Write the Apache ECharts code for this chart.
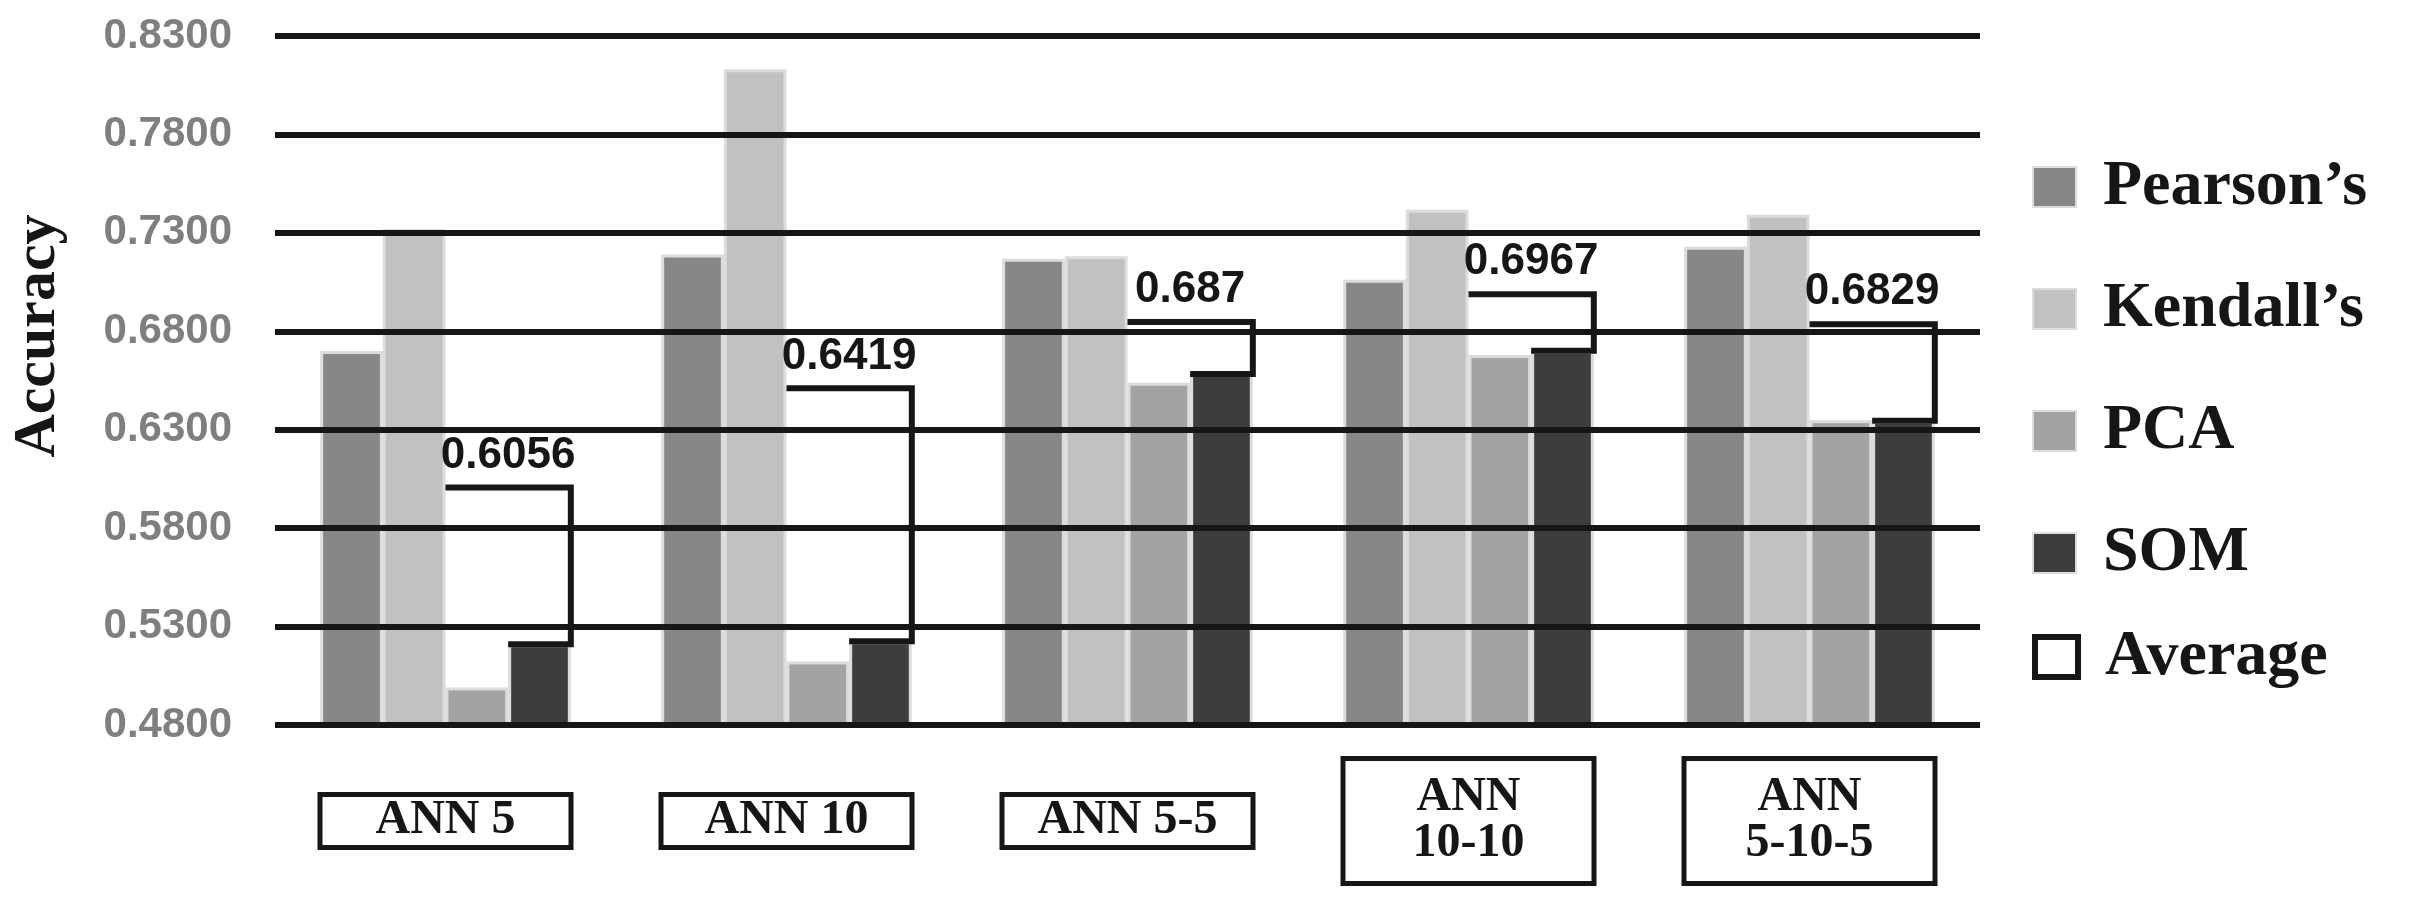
<!DOCTYPE html>
<html>
<head>
<meta charset="utf-8">
<script src="https://cdn.jsdelivr.net/npm/echarts@6/dist/echarts.min.js"></script>
<style>
  html, body { margin: 0; padding: 0; background: #ffffff; }
  #chart { width: 2409px; height: 911px; }
</style>
</head>
<body>
<div id="chart"></div>
<script>
// ---- data ----
const categories = ['ANN 5', 'ANN 10', 'ANN 5-5', 'ANN\n10-10', 'ANN\n5-10-5'];
const seriesNames = ['Pearson\u2019s', 'Kendall\u2019s', 'PCA', 'SOM'];
const pearson = [0.6700, 0.7190, 0.7169, 0.7062, 0.7230];
const kendall = [0.7320, 0.8131, 0.7181, 0.7418, 0.7392];
const pca = [0.4990, 0.5123, 0.6538, 0.6680, 0.6348];
const som = [0.5210, 0.5226, 0.6583, 0.6701, 0.6346];
const averageLabels = ['0.6056', '0.6419', '0.687', '0.6967', '0.6829'];
// level at which each "Average" bracket is drawn
const averageBracket = [0.6007, 0.6510, 0.6847, 0.6988, 0.6836];
const yMin = 0.48, yMax = 0.83, yStep = 0.05;

// ---- style ----
const colors = ['#878787', '#c1c1c1', '#a3a3a3', '#3d3d3d'];
const CAT_GAP = 0.265;
const INK = '#161616';

const chart = echarts.init(document.getElementById('chart'), null, { renderer: 'canvas' });

const barValues = [pearson, kendall, pca, som];
const barSeries = seriesNames.map((name, k) => ({
  name: name,
  type: 'bar',
  z: 2,
  data: barValues[k],
  barGap: '0%',
  barCategoryGap: (CAT_GAP * 100) + '%',
  itemStyle: { color: colors[k], borderColor: '#dcdcdc', borderWidth: 3 },
  emphasis: { disabled: true }
}));

function renderAverage(params, api) {
  const i = api.value(0);
  const avg = api.value(1);
  const s = api.value(2);
  const pTop = api.coord([i, avg]);
  const pSom = api.coord([i, s]);
  const band = api.size([1, 0])[0];
  const half = band * (1 - CAT_GAP) / 2;
  const barW = half / 2;
  const x0 = pTop[0];
  const x1 = pTop[0] + half;
  return {
    type: 'group',
    children: [
      {
        type: 'polyline',
        shape: { points: [[x0, pTop[1]], [x1, pTop[1]], [x1, pSom[1]], [x1 - barW, pSom[1]]] },
        style: { stroke: INK, lineWidth: 6, fill: null, lineJoin: 'miter' }
      },
      {
        type: 'text',
        x: (x0 + x1) / 2,
        y: pTop[1] - 10,
        style: {
          text: averageLabels[i],
          font: 'bold 44px "Liberation Sans", Arial, sans-serif',
          fill: INK,
          align: 'center',
          verticalAlign: 'bottom'
        }
      }
    ]
  };
}

const xData = categories.map(c => (c.indexOf('\n') >= 0
  ? { value: c, textStyle: { padding: [14, 0, 14, 0], verticalAlign: 'middle' } }
  : { value: c }));

const legendText = {
  fontFamily: '"Liberation Serif", "Times New Roman", serif',
  fontWeight: 'bold',
  fontSize: 64,
  lineHeight: 62,
  color: INK,
  padding: [0, 0, 0, 22]
};

const option = {
  animation: false,
  backgroundColor: '#ffffff',
  grid: { left: 275, right: 429, top: 36, bottom: 186, containLabel: false, outerBoundsMode: 'none' },
  legend: [
    {
      orient: 'vertical',
      left: 2027,
      top: 150,
      itemWidth: 43,
      itemHeight: 40,
      itemGap: 58,
      icon: 'rect',
      selectedMode: false,
      data: seriesNames,
      textStyle: legendText
    },
    {
      orient: 'vertical',
      left: 2027,
      top: 620,
      itemWidth: 43,
      itemHeight: 40,
      selectedMode: false,
      data: [{ name: 'Average', icon: 'rect', itemStyle: { color: '#ffffff', borderColor: INK, borderWidth: 6 } }],
      textStyle: legendText
    }
  ],
  graphic: [
    {
      type: 'text',
      x: 38,
      y: 336,
      rotation: Math.PI / 2,
      style: {
        text: 'Accuracy',
        font: 'bold 60px "Liberation Serif", "Times New Roman", serif',
        fill: INK,
        align: 'center',
        verticalAlign: 'middle'
      }
    }
  ],
  xAxis: {
    type: 'category',
    data: xData,
    axisLine: { show: false },
    axisTick: { show: false },
    axisLabel: {
      interval: 0,
      margin: 96,
      verticalAlign: 'middle',
      align: 'center',
      width: 246,
      overflow: 'none',
      fontFamily: '"Liberation Serif", "Times New Roman", serif',
      fontWeight: 'bold',
      fontSize: 48,
      lineHeight: 46,
      color: INK,
      borderColor: INK,
      borderWidth: 5,
      padding: [2, 0, 0, 0],
      backgroundColor: '#ffffff'
    }
  },
  yAxis: {
    type: 'value',
    min: yMin,
    max: yMax,
    interval: yStep,
    z: 3,
    axisLine: { show: false },
    axisTick: { show: false },
    axisLabel: {
      margin: 43,
      formatter: v => v.toFixed(4),
      fontFamily: '"Liberation Sans", Arial, sans-serif',
      fontWeight: 'bold',
      fontSize: 42,
      color: '#7f7f7f'
    },
    splitLine: { show: true, lineStyle: { color: INK, width: 6 } }
  },
  series: barSeries.concat([
    {
      name: 'Average',
      type: 'custom',
      z: 4,
      renderItem: renderAverage,
      encode: { x: 0, y: 1 },
      data: categories.map((c, i) => [i, averageBracket[i], som[i]])
    }
  ])
};

chart.setOption(option);
</script>
</body>
</html>
